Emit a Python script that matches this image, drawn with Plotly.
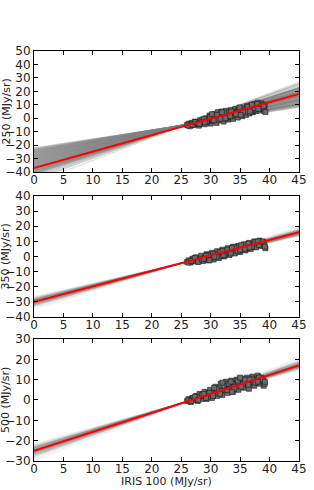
import plotly.graph_objects as go

X_RANGE = [0, 45]
X_TICKS = [0, 5, 10, 15, 20, 25, 30, 35, 40, 45]

# ---------- panel 1 : 250 micron ----------
p1_x = [26.0, 26.3, 26.5, 26.8, 27.0, 27.3, 27.5, 27.8, 28.0, 28.2, 28.5, 28.8, 29.0, 29.2, 29.5, 29.7,
        30.0, 30.1, 30.4, 30.6, 30.8, 31.0, 31.2, 31.4, 31.6, 31.8, 32.0, 32.2, 32.4, 32.6, 32.8, 33.0,
        33.2, 33.4, 33.6, 33.8, 34.0, 34.2, 34.4, 34.6, 34.8, 35.0, 35.2, 35.4, 35.6, 35.8, 36.0, 36.2,
        36.4, 36.6, 36.8, 37.0, 37.2, 37.4, 37.6, 37.8, 38.0, 38.2, 38.4, 38.6, 38.8, 39.0, 39.1, 39.2, 39.3,
        26.6, 27.6, 28.6, 29.4, 30.3, 30.9, 31.5, 32.1, 32.7, 33.1, 33.7, 34.1, 34.7, 35.3, 35.9, 36.5,
        37.1, 37.7, 38.3, 38.9, 29.8, 31.3, 32.9, 34.5, 36.1, 37.5,
        26.2, 26.9, 27.4, 27.9, 28.3, 28.9, 29.3, 29.9, 30.5, 31.1, 31.7, 32.3, 32.9, 33.5, 34.3, 34.9,
        35.5, 36.3, 36.9, 37.3, 37.9, 38.5, 39.0, 30.2, 31.9, 33.3, 34.9, 36.7, 38.1, 28.1, 29.0, 32.5,
        35.1, 37.0]
p1_y = [-5.0, -4.0, -6.0, -3.5, -5.0, -2.5, -4.5, -3.0, -5.5, -1.5, -3.5, -2.0, -4.5, 0.0, -2.5, -1.0,
        -4.0, 1.5, -2.0, 3.0, 0.0, -3.5, 4.5, 1.5, -1.5, 5.0, 2.5, -2.5, 0.5, 5.5, 3.0, -1.0,
        1.0, 6.0, 4.0, -0.5, 2.0, 7.0, 5.0, 0.5, 3.0, 7.5, 5.5, 1.5, 8.0, 4.0, 2.5, 9.0,
        6.0, 3.5, 9.5, 7.0, 4.5, 10.5, 8.0, 5.5, 11.5, 9.0, 6.5, 11.0, 8.5, 5.5, 7.0, 10.0, 4.5,
        -4.5, -3.5, -1.0, -3.0, -0.5, 1.5, 2.5, 1.0, 0.0, 4.5, 2.0, 4.0, 6.0, 3.5, 6.5, 8.0,
        5.5, 9.5, 7.5, 10.0, 2.0, -1.0, 2.0, 3.0, 5.0, 6.5,
        -5.5, -4.8, -2.8, -4.0, -3.2, -0.5, -2.5, 1.0, -1.5, 2.5, -0.5, 4.0, 1.5, 5.0, 3.0, 6.5,
        4.5, 8.5, 6.0, 7.5, 10.5, 8.0, 9.0, 3.0, 4.5, 1.5, 8.0, 5.0, 7.0, -4.0, -3.0, 0.0,
        2.5, 10.0]
p1_gray_y0 = [-22, -22.5, -23, -23.5, -24, -24.5, -25, -25.5, -26, -26.5, -27, -27.5, -28, -28.5, -29,
              -29.5, -30, -30.5, -31, -31.5, -32, -32.5, -33, -33.5, -34, -34.5, -35, -35.5, -36, -36.5,
              -37, -37.5, -38, -38.5, -39, -39.5, -40, -40.5, -41, -41.5, -42, -43, -44, -45, -46, -48]
p1_gray_y45 = [8.0, 8.5, 9.0, 9.5, 10.0, 10.2, 10.5, 10.8, 11.0, 11.5, 12.0, 12.5, 13.0, 13.2, 13.5,
               14.0, 14.0, 14.5, 15.0, 15.5, 16.0, 16.2, 16.5, 16.8, 17.0, 17.5, 18.0, 18.5, 19.0, 19.2,
               19.5, 19.8, 20.0, 20.5, 21.0, 21.5, 22.0, 22.2, 22.5, 22.8, 23.0, 24.0, 25.0, 25.5, 26.0, 27.0]
p1_gray_alpha = [0.35, 0.45, 0.55, 0.65, 0.75, 0.75, 0.75, 0.75, 0.75, 0.75, 0.75, 0.75, 0.75, 0.75, 0.75,
                 0.75, 0.75, 0.75, 0.75, 0.75, 0.75, 0.75, 0.75, 0.75, 0.75, 0.75, 0.75, 0.75, 0.75, 0.75,
                 0.75, 0.75, 0.75, 0.75, 0.75, 0.75, 0.75, 0.7, 0.65, 0.6, 0.55, 0.5, 0.45, 0.4, 0.35, 0.3]
p1_fit = [-37.0, 18.0]

# ---------- panel 2 : 350 micron ----------
p2_x = [26.0, 26.3, 26.6, 26.9, 27.2, 27.5, 27.8, 28.1, 28.4, 28.7, 29.0, 29.3, 29.6, 29.9, 30.2, 30.5,
        30.8, 31.1, 31.4, 31.7, 32.0, 32.3, 32.6, 32.9, 33.2, 33.5, 33.8, 34.1, 34.4, 34.7, 35.0, 35.3,
        35.6, 35.9, 36.2, 36.5, 36.8, 37.1, 37.4, 37.7, 38.0, 38.3, 38.6, 38.9, 39.1, 39.3,
        27.0, 28.0, 29.1, 30.0, 30.9, 31.8, 32.5, 33.3, 34.0, 34.8, 35.5, 36.3, 37.0, 37.8, 38.5,
        29.5, 31.3, 33.0, 34.6, 36.0,
        26.2, 26.7, 27.3, 27.9, 28.5, 29.2, 29.8, 30.4, 31.0, 31.6, 32.2, 32.8, 33.4, 34.0, 34.6, 35.2,
        35.8, 36.4, 37.0, 37.6, 38.2, 38.8, 39.2, 28.8, 30.6, 32.0, 33.6, 35.0, 36.6, 38.0]
p2_y = [-3.5, -2.5, -4.0, -1.5, -3.0, -0.5, -3.5, -1.5, 0.5, -3.0, -1.0, 1.5, -2.5, 0.0, 2.5, -2.0,
        1.0, 3.5, -1.0, 2.0, 4.5, 0.0, 3.0, 5.5, 1.0, 4.0, 6.5, 2.0, 5.0, 7.0, 3.0, 6.0,
        8.0, 4.0, 7.0, 9.0, 5.0, 8.0, 10.0, 6.0, 9.0, 10.5, 7.0, 9.5, 8.0, 5.5,
        -2.0, -2.5, -0.5, -1.0, 0.5, 0.5, 1.5, 2.5, 4.0, 4.0, 6.5, 5.5, 7.0, 8.5, 8.0,
        1.0, 2.0, 3.0, 6.5, 8.0,
        -4.0, -3.0, -1.0, -3.5, -2.0, 0.5, -2.5, 1.5, -0.5, 3.0, 1.0, 4.5, 2.0, 6.0, 3.5, 7.5,
        5.0, 8.5, 6.5, 9.5, 7.5, 10.0, 6.5, -1.5, 0.0, 3.5, 5.5, 4.5, 6.0, 10.0]
p2_gray_y0 = [-26.5, -27.0, -27.5, -28.0, -28.3, -28.6, -29.0, -29.3, -29.6, -30.0, -30.2, -30.5, -30.8,
              -31.1, -31.5, -32.0, -32.5, -33.0, -34.0, -35.0]
p2_gray_y45 = [13.4, 13.7, 14.1, 14.4, 14.6, 14.8, 15.2, 15.4, 15.6, 15.9, 16.0, 16.3, 16.5,
               16.7, 17.0, 17.4, 17.7, 18.1, 18.8, 19.5]
p2_gray_alpha = [0.12, 0.25, 0.4, 0.55, 0.65, 0.7, 0.7, 0.7, 0.7, 0.7, 0.7, 0.7, 0.7,
                 0.7, 0.65, 0.55, 0.4, 0.3, 0.2, 0.1]
p2_fit = [-30.0, 16.0]

# ---------- panel 3 : 500 micron ----------
p3_x = [26.0, 26.3, 26.6, 26.9, 27.2, 27.5, 27.8, 28.1, 28.4, 28.7, 29.0, 29.3, 29.6, 29.9, 30.2, 30.5,
        30.8, 31.1, 31.4, 31.7, 32.0, 32.3, 32.6, 32.9, 33.2, 33.5, 33.8, 34.1, 34.4, 34.7, 35.0, 35.3,
        35.6, 35.9, 36.2, 36.5, 36.8, 37.1, 37.4, 37.7, 38.0, 38.3, 38.6, 38.9, 39.0, 39.2,
        27.0, 28.0, 29.1, 30.0, 30.9, 31.8, 32.5, 33.3, 34.0, 34.8, 35.5, 36.3, 37.0, 37.8, 38.5,
        29.5, 31.3, 33.0, 34.6, 36.0,
        26.2, 26.7, 27.3, 27.9, 28.5, 29.2, 29.8, 30.4, 31.0, 31.6, 32.2, 32.8, 33.4, 34.0, 34.6, 35.2,
        35.8, 36.4, 37.0, 37.6, 38.2, 38.8, 39.2, 28.8, 30.6, 32.0, 33.6, 35.0, 36.6, 38.0]
p3_y = [-0.5, 0.5, -1.0, 1.0, 0.0, 2.0, -0.5, 3.0, 0.5, 2.0, 4.0, 0.5, 3.0, 5.0, 1.0, 4.0,
        6.5, 2.0, 5.0, 8.0, 2.5, 6.0, 9.0, 3.5, 7.0, 9.5, 4.0, 8.0, 10.0, 5.0, 8.5, 10.5,
        6.0, 9.0, 11.0, 5.5, 8.5, 11.5, 7.0, 10.0, 12.0, 8.0, 11.0, 9.5, 7.0, 8.0,
        1.0, 1.5, 2.0, 2.5, 4.0, 4.5, 5.0, 5.5, 6.5, 7.0, 8.0, 8.0, 9.0, 9.0, 10.0,
        1.5, 3.5, 8.0, 9.0, 10.0,
        0.0, -0.5, 1.5, 0.0, 2.5, 1.0, 3.5, 2.0, 5.5, 3.0, 7.0, 5.0, 9.0, 5.5, 9.5, 6.5,
        10.0, 7.5, 10.5, 8.5, 11.0, 10.0, 9.0, 3.0, 6.0, 8.5, 4.0, 11.0, 10.0, 9.0]
p3_gray_y0 = [-21.5, -22.0, -22.5, -23.0, -23.3, -23.6, -24.0, -24.3, -24.6, -25.0, -25.2, -25.5, -25.8,
              -26.0, -26.5, -27.0, -27.5, -28.0, -29.0, -30.0]
p3_gray_y45 = [14.6, 15.0, 15.3, 15.7, 15.9, 16.1, 16.4, 16.6, 16.8, 17.1, 17.2, 17.5, 17.6,
               17.8, 18.2, 18.5, 18.9, 19.2, 19.9, 20.6]
p3_gray_alpha = [0.1, 0.2, 0.35, 0.5, 0.6, 0.7, 0.7, 0.7, 0.7, 0.7, 0.7, 0.7, 0.7,
                 0.7, 0.65, 0.55, 0.4, 0.3, 0.18, 0.1]
p3_fit = [-25.0, 17.0]

panels = [
    dict(x=p1_x, y=p1_y, g0=p1_gray_y0, g45=p1_gray_y45, ga=p1_gray_alpha, fit=p1_fit,
         yr=[-40, 50], title="250 (MJy/sr)"),
    dict(x=p2_x, y=p2_y, g0=p2_gray_y0, g45=p2_gray_y45, ga=p2_gray_alpha, fit=p2_fit,
         yr=[-40, 40], title="350 (MJy/sr)"),
    dict(x=p3_x, y=p3_y, g0=p3_gray_y0, g45=p3_gray_y45, ga=p3_gray_alpha, fit=p3_fit,
         yr=[-30, 30], title="500 (MJy/sr)"),
]

domains = [[0.7049, 1.0], [0.3512, 0.6463], [0.0, 0.2976]]

fig = go.Figure()
layout = dict(
    width=314, height=490,
    margin=dict(l=34, r=15, t=51, b=29, autoexpand=False),
    paper_bgcolor="white", plot_bgcolor="white",
    showlegend=False,
    font=dict(family="DejaVu Sans", size=12, color="#222"),
)

for i, p in enumerate(panels):
    n = i + 1
    xa = "x" if n == 1 else f"x{n}"
    ya = "y" if n == 1 else f"y{n}"
    for a0, a45, al in zip(p["g0"], p["g45"], p["ga"]):
        fig.add_trace(go.Scatter(x=X_RANGE, y=[a0, a45], mode="lines",
                                 line=dict(color=f"rgba(128,128,128,{al})", width=1),
                                 xaxis=xa, yaxis=ya, hoverinfo="skip"))
    fig.add_trace(go.Scatter(x=p["x"], y=p["y"], mode="markers",
                             marker=dict(symbol="square", size=5, color="#6a6a6a",
                                         line=dict(color="#1a1a1a", width=0.6)),
                             xaxis=xa, yaxis=ya))
    fig.add_trace(go.Scatter(x=X_RANGE, y=p["fit"], mode="lines",
                             line=dict(color="red", width=2), xaxis=xa, yaxis=ya))
    axcommon = dict(showgrid=False, zeroline=False, showline=True, linecolor="black", linewidth=1,
                    mirror="ticks", ticks="inside", ticklen=4, tickcolor="black", automargin=False,
                    tickfont=dict(size=12, color="#222"))
    layout["xaxis" if n == 1 else f"xaxis{n}"] = dict(
        range=X_RANGE, tickvals=X_TICKS, anchor=ya, domain=[0, 1], ticklabelstandoff=-3, **axcommon)
    layout["yaxis" if n == 1 else f"yaxis{n}"] = dict(
        range=p["yr"], dtick=10, anchor=xa, domain=domains[i], **axcommon)

annotations = []
for i, p in enumerate(panels):
    annotations.append(dict(text=p["title"], xref="paper", yref="paper", x=0,
                            y=(domains[i][0] + domains[i][1]) / 2, xanchor="center", yanchor="middle",
                            xshift=-28, textangle=-90, showarrow=False,
                            font=dict(size=11, color="#222")))
annotations.append(dict(text="IRIS 100 (MJy/sr)", xref="paper", yref="paper", x=0.5, y=0,
                        xanchor="center", yanchor="middle", yshift=-20, showarrow=False,
                        font=dict(size=11, color="#222")))
layout["annotations"] = annotations

fig.update_layout(**layout)
fig.write_html("out.html", config={"displayModeBar": False},
               post_script="document.body.style.margin='0';")
